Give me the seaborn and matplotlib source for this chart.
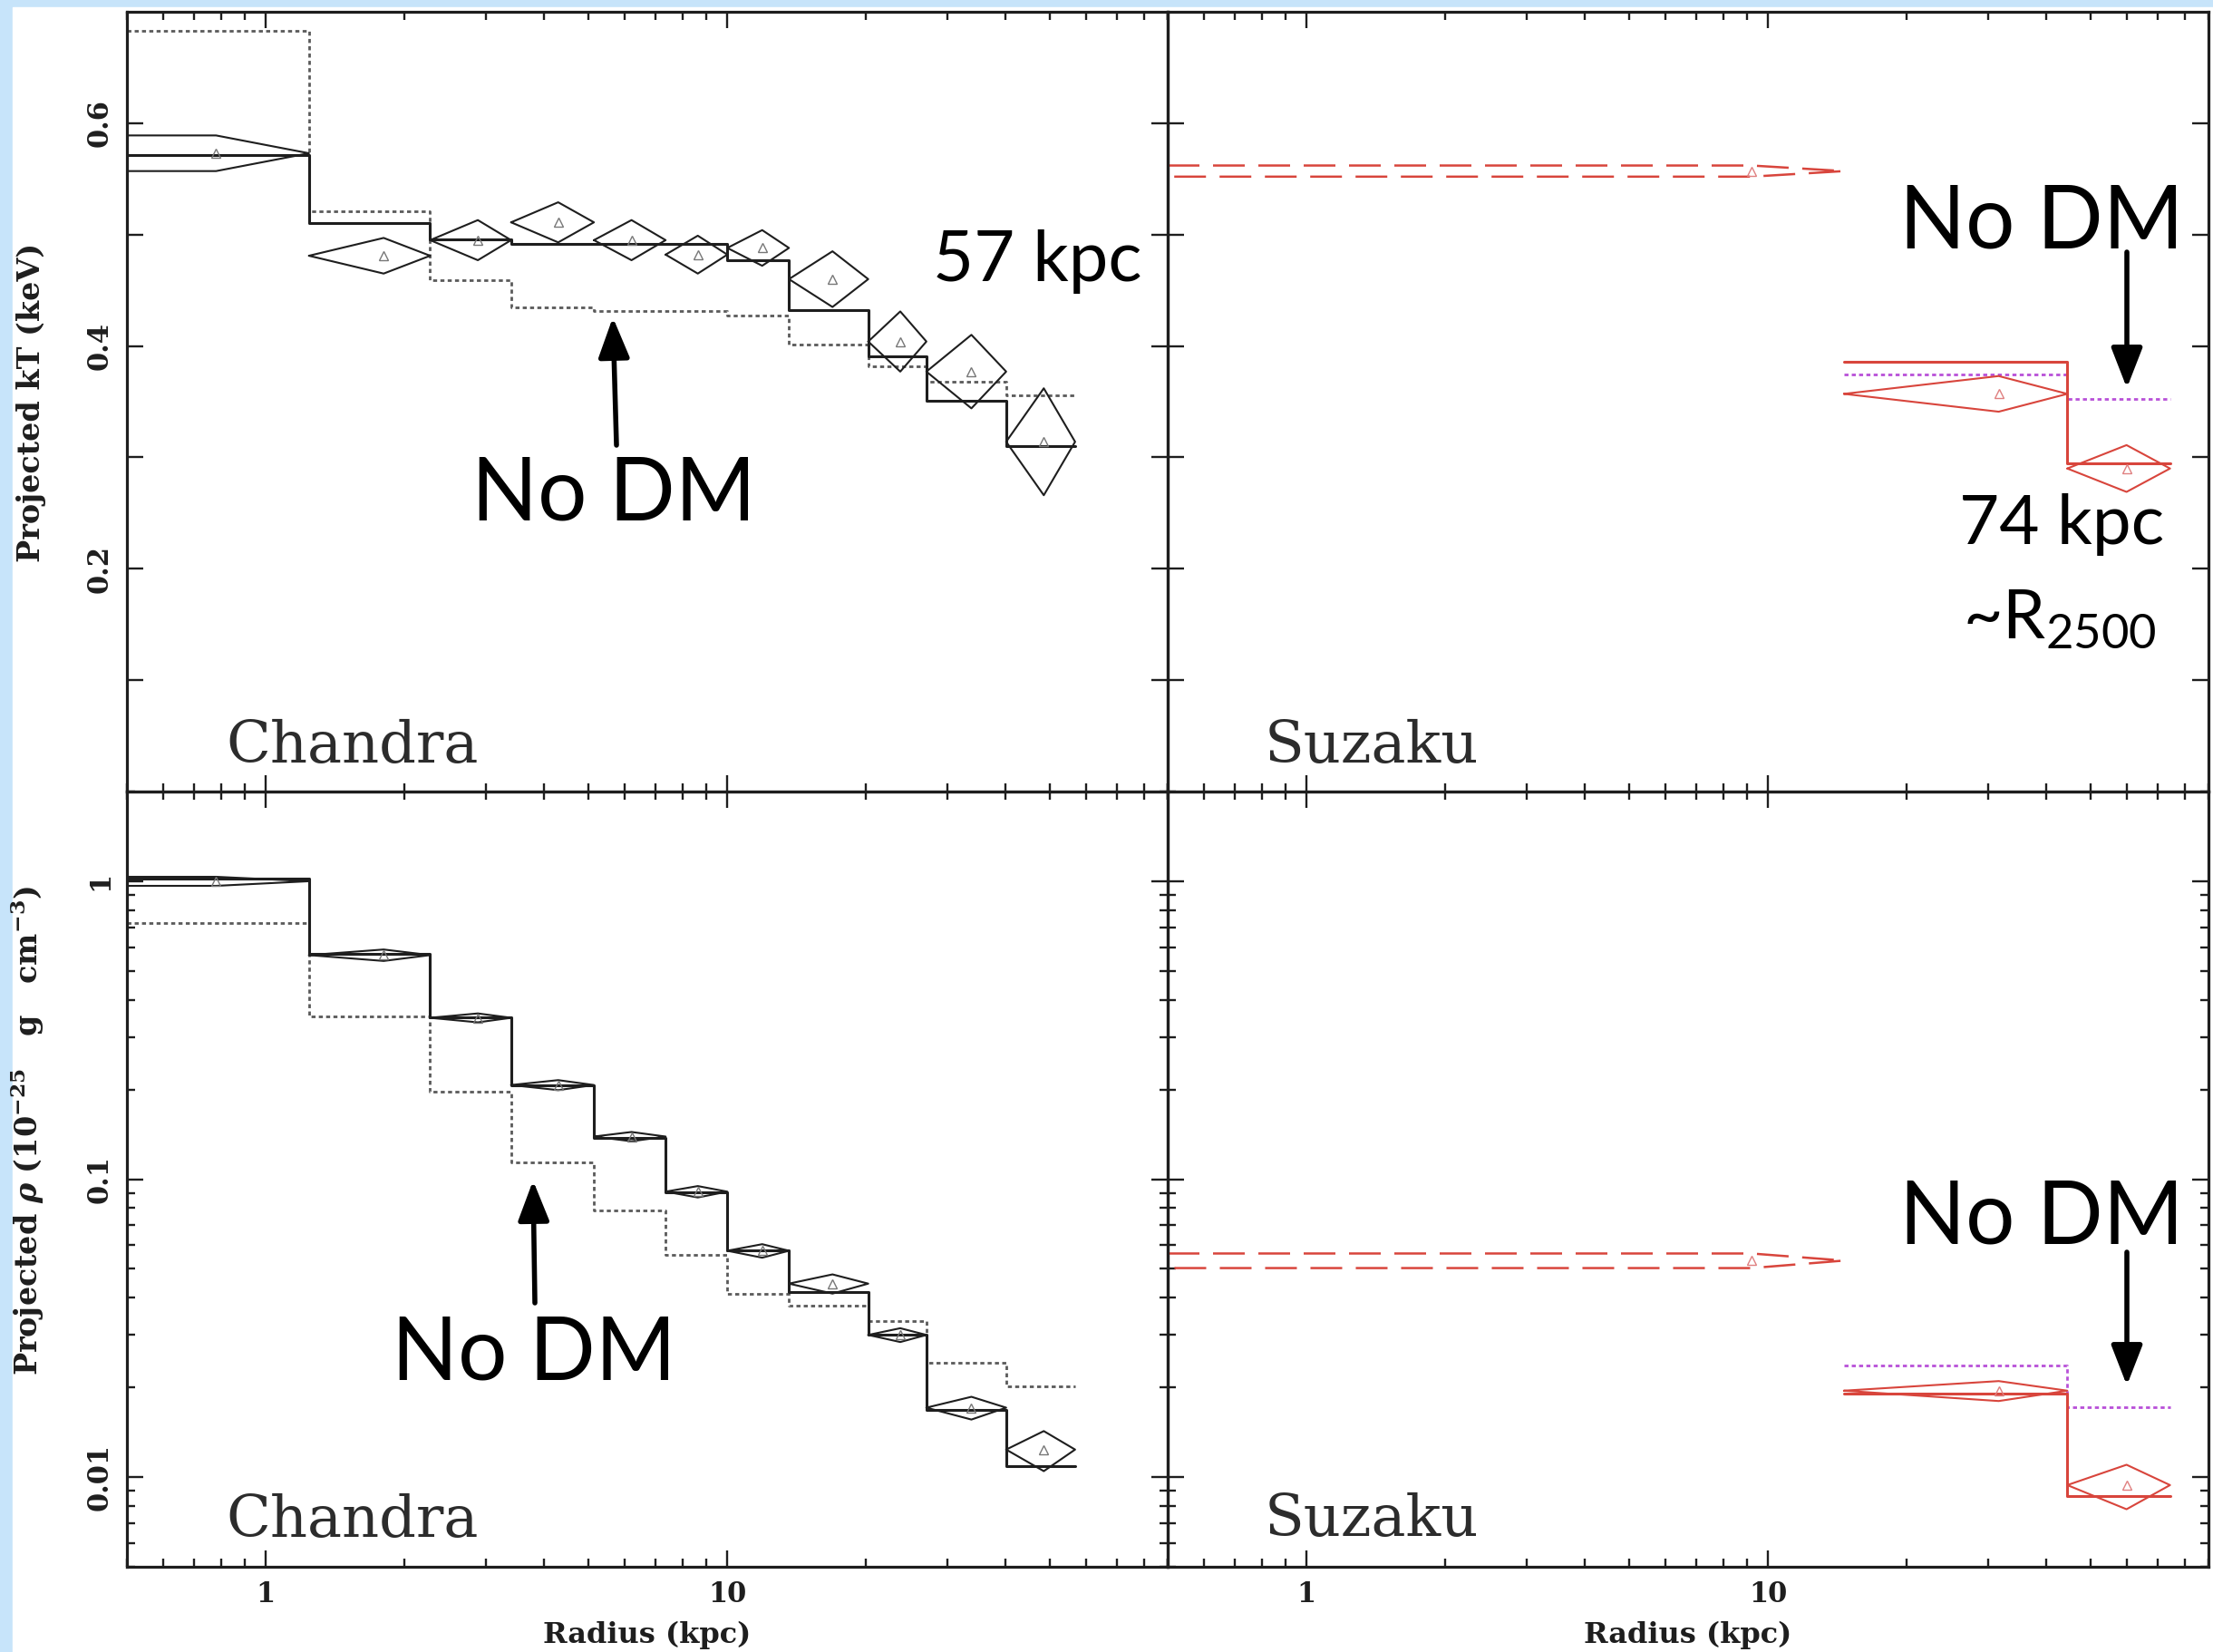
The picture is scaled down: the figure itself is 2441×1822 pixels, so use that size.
import numpy as np
import pandas as pd
import matplotlib
matplotlib.use("Agg")
import matplotlib.pyplot as plt
import seaborn as sns
from matplotlib.patches import Rectangle, FancyArrowPatch
from matplotlib.ticker import (LogLocator, NullFormatter, FixedFormatter,
                               FixedLocator)

# ---------------------------------------------------------------- data
# Chandra annuli (kpc); innermost annulus starts at the centre
chandra_edges = [0.0, 1.24, 2.27, 3.40, 5.14, 7.35, 10.0, 13.6, 20.2, 27.0, 40.2, 56.7]
chandra_rc = [0.78, 1.80, 2.88, 4.30, 6.20, 8.63, 11.9, 16.9, 23.7, 33.8, 48.5]

chandra_kT = [0.573, 0.481, 0.495, 0.511, 0.495, 0.482, 0.488, 0.460, 0.404, 0.377, 0.314]
chandra_kT_err = [0.016, 0.016, 0.018, 0.018, 0.018, 0.017, 0.016, 0.025, 0.027, 0.033, 0.048]
chandra_kT_model = [0.571, 0.510, 0.496, 0.492, 0.492, 0.492, 0.477, 0.4325, 0.391, 0.351, 0.310]
chandra_kT_nodm = [0.683, 0.521, 0.459, 0.435, 0.431, 0.431, 0.427, 0.401, 0.382, 0.368, 0.356]

chandra_rho = [1.00, 0.565, 0.348, 0.207, 0.139, 0.0908, 0.0575, 0.0446, 0.0300, 0.0171, 0.01237]
chandra_rho_err = [0.035, 0.025, 0.012, 0.008, 0.005, 0.004, 0.003, 0.0033, 0.0016, 0.0015, 0.0019]
chandra_rho_model = [1.02, 0.571, 0.350, 0.2068, 0.138, 0.0905, 0.0575, 0.0418, 0.0300, 0.01675, 0.01087]
chandra_rho_nodm = [0.724, 0.353, 0.197, 0.1136, 0.0788, 0.0558, 0.0413, 0.0376, 0.0335, 0.0242, 0.0201]

# Suzaku annuli (kpc); the innermost one is not fitted (drawn dashed)
suzaku_edges = [0.0, 14.6, 44.5, 74.3]
suzaku_rc = [9.2, 31.6, 59.8]

suzaku_kT = [0.557, 0.357, 0.290]
suzaku_kT_err = [0.005, 0.016, 0.021]
suzaku_kT_model = [0.3858, 0.2944]
suzaku_kT_nodm = [0.3746, 0.3522]

suzaku_rho = [0.0533, 0.0195, 0.0094]
suzaku_rho_err = [0.003, 0.0015, 0.0016]
suzaku_rho_model = [0.01903, 0.00861]
suzaku_rho_nodm = [0.0237, 0.01716]

# ---------------------------------------------------------------- style
W, H = 2441, 1822
sns.set_theme(style="ticks")
plt.rcParams["font.family"] = ["DejaVu Serif"]
plt.rcParams["font.weight"] = "bold"
plt.rcParams["mathtext.fontset"] = "dejavuserif"

INK = "#1e1e1e"
GREY = "#5a5a5a"
RED = "#d8453c"
MAGENTA = "#b850d8"

XLIM = (0.5, 90.0)
KT_LIM = (0.0, 0.7)
RHO_LIM = (0.005, 2.0)

fig = plt.figure(figsize=(W / 100, H / 100), dpi=100, facecolor="#c7e4fa")
fig.patches.append(Rectangle((14 / W, 0), 1 - 14 / W, 1 - 8 / H,
                             transform=fig.transFigure, color="white",
                             zorder=-10))


def box(x0, y0, x1, y1):
    return [x0 / W, 1 - y1 / H, (x1 - x0) / W, (y1 - y0) / H]


ax_tl = fig.add_axes(box(140, 13, 1288, 873))
ax_tr = fig.add_axes(box(1288, 13, 2436, 873))
ax_bl = fig.add_axes(box(140, 873, 1288, 1728))
ax_br = fig.add_axes(box(1288, 873, 2436, 1728))


def style_axis(ax, logy):
    ax.set_facecolor("none")
    ax.set_xscale("log")
    ax.set_xlim(*XLIM)
    if logy:
        ax.set_yscale("log")
        ax.set_ylim(*RHO_LIM)
        ax.yaxis.set_major_locator(FixedLocator([0.01, 0.1, 1.0]))
        ax.yaxis.set_minor_locator(LogLocator(base=10, subs=np.arange(2, 10)))
        ax.yaxis.set_major_formatter(FixedFormatter(["0.01", "0.1", "1"]))
    else:
        ax.set_ylim(*KT_LIM)
        ax.yaxis.set_major_locator(FixedLocator([0.2, 0.4, 0.6]))
        ax.yaxis.set_minor_locator(FixedLocator([0.1, 0.3, 0.5]))
        ax.yaxis.set_major_formatter(FixedFormatter(["0.2", "0.4", "0.6"]))
    ax.xaxis.set_major_locator(FixedLocator([1.0, 10.0]))
    ax.xaxis.set_major_formatter(FixedFormatter(["1", "10"]))
    ax.xaxis.set_minor_locator(LogLocator(base=10, subs=np.arange(2, 10)))
    ax.xaxis.set_minor_formatter(NullFormatter())
    ax.yaxis.set_minor_formatter(NullFormatter())
    for s in ax.spines.values():
        s.set_linewidth(2.3)
        s.set_color(INK)
    ax.tick_params(which="both", direction="in", top=True, right=True,
                   color=INK, width=1.7, labelsize=22, labelcolor=INK)
    ax.tick_params(which="major", length=13)
    ax.tick_params(axis="x", which="major", pad=11)
    ax.tick_params(axis="y", which="major", pad=10)
    ax.tick_params(which="minor", length=6.5)
    if not logy:
        ax.tick_params(axis="y", which="minor", length=13)
    ax.tick_params(axis="y", labelrotation=90)
    for lab in ax.get_yticklabels():
        lab.set_verticalalignment("center")


for a, lg in [(ax_tl, False), (ax_tr, False), (ax_bl, True), (ax_br, True)]:
    style_axis(a, lg)
for a in (ax_tl, ax_tr):
    a.tick_params(axis="x", labelbottom=False)
for a in (ax_tr, ax_br):
    a.tick_params(axis="y", labelleft=False)


def step(ax, edges, values, **kw):
    xs = list(edges)
    ys = list(values) + [values[-1]]
    if xs[0] <= 0:
        xs[0] = XLIM[0]
    sns.lineplot(x=xs, y=ys, ax=ax, drawstyle="steps-post", estimator=None,
                 sort=False, **kw)


def diamond(ax, r_in, rc, r_out, v, e, **kw):
    if r_in <= 0:
        xs = [XLIM[0], rc, r_out, rc, XLIM[0]]
        ys = [v + e, v + e, v, v - e, v - e]
    else:
        xs = [r_in, rc, r_out, rc, r_in]
        ys = [v, v + e, v, v - e, v]
    ax.plot(xs, ys, **kw)


def chandra_panel(ax, vals, errs, model, nodm):
    step(ax, chandra_edges, nodm, color=GREY, linewidth=2.0,
         linestyle=(0, (1.6, 1.3)))
    step(ax, chandra_edges, model, color=INK, linewidth=2.2)
    for i in range(len(vals)):
        diamond(ax, chandra_edges[i], chandra_rc[i], chandra_edges[i + 1],
                vals[i], errs[i], color=INK, linewidth=1.5)
    ax.plot(chandra_rc, vals, ls="none", marker="^", ms=7, mfc="none",
            mec="#777777", mew=1.0)


def suzaku_panel(ax, vals, errs, model, nodm):
    step(ax, suzaku_edges[1:], nodm, color=MAGENTA, linewidth=2.0,
         linestyle=(0, (1.6, 1.3)))
    step(ax, suzaku_edges[1:], model, color=RED, linewidth=2.2)
    diamond(ax, suzaku_edges[0], suzaku_rc[0], suzaku_edges[1], vals[0], errs[0],
            color=RED, linewidth=1.8, linestyle=(0, (14, 6)))
    for i in (1, 2):
        diamond(ax, suzaku_edges[i], suzaku_rc[i], suzaku_edges[i + 1],
                vals[i], errs[i], color=RED, linewidth=1.5)
    ax.plot(suzaku_rc, vals, ls="none", marker="^", ms=7, mfc="none",
            mec="#e08080", mew=1.0)


chandra_panel(ax_tl, chandra_kT, chandra_kT_err, chandra_kT_model, chandra_kT_nodm)
chandra_panel(ax_bl, chandra_rho, chandra_rho_err, chandra_rho_model, chandra_rho_nodm)
suzaku_panel(ax_tr, suzaku_kT, suzaku_kT_err, suzaku_kT_model, suzaku_kT_nodm)
suzaku_panel(ax_br, suzaku_rho, suzaku_rho_err, suzaku_rho_model, suzaku_rho_nodm)

# axis labels
for a in (ax_bl, ax_br):
    a.set_xlabel("Radius (kpc)", fontsize=23, color=INK, fontweight="bold")
    a.xaxis.set_label_coords(0.5, -0.070)
ax_tl.set_ylabel("Projected kT (keV)", fontsize=24, color=INK, fontweight="bold")
ax_tl.yaxis.set_label_coords(-0.0775, 0.499)
ax_bl.set_ylabel(r"Projected $\rho$ (10$^{-25}$   g   cm$^{-3}$)", fontsize=24,
                 color=INK, fontweight="bold")
ax_bl.yaxis.set_label_coords(-0.0775, 0.563)


def fpos(x, y):
    return x / W, 1 - y / H


# instrument tags
for (x, y, s) in [(249, 841, "Chandra"), (1395, 841, "Suzaku"),
                  (249, 1695, "Chandra"), (1395, 1694, "Suzaku")]:
    fig.text(*fpos(x, y), s, fontsize=46, color="#2c2c2c", ha="left",
             va="baseline", family="DejaVu Serif", fontweight="normal")

# annotations
ANN = dict(family=["Lato", "DejaVu Sans"], color="black", ha="center",
           va="baseline", fontweight="normal")
fig.text(*fpos(1144, 310), "57 kpc", fontsize=56, **ANN)
fig.text(*fpos(677, 574), "No DM", fontsize=69, **ANN)
fig.text(*fpos(2252, 273), "No DM", fontsize=69, **ANN)
fig.text(*fpos(2274, 600), "74 kpc", fontsize=55, **ANN)
fig.text(*fpos(2272, 703), r"~R$_{\mathregular{2500}}$", fontsize=54, **ANN)
fig.text(*fpos(589, 1521), "No DM", fontsize=69, **ANN)
fig.text(*fpos(2252, 1372), "No DM", fontsize=69, **ANN)

ARROW = dict(arrowstyle="-|>,head_length=0.9,head_width=0.35", lw=4.0,
             color="black", shrinkA=0, shrinkB=0, mutation_scale=30)
for (x0, y0, x1, y1) in [(680, 491, 676, 350), (590, 1437, 588, 1302),
                         (2346, 278, 2346, 428), (2346, 1381, 2346, 1528)]:
    fig.add_artist(FancyArrowPatch(fpos(x0, y0), fpos(x1, y1),
                                   transform=fig.transFigure, **ARROW))

fig.savefig("out.png", dpi=100, facecolor=fig.get_facecolor())
